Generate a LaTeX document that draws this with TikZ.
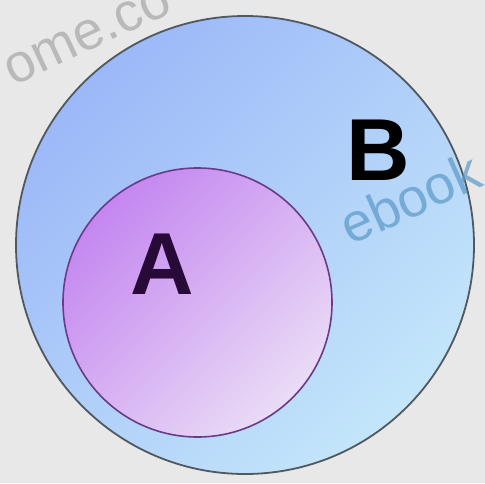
\documentclass[tikz,border=0pt]{standalone}
\usepackage{fontspec}
\setmainfont{Liberation Sans}
\usetikzlibrary{shadings}
\definecolor{bgc}{HTML}{E8E8E8}
\definecolor{bluea}{HTML}{9CB8F8}
\definecolor{blueb}{HTML}{C4E6FA}
\definecolor{pinka}{HTML}{C486F0}
\definecolor{pinkb}{HTML}{EADCF6}
\definecolor{ringb}{HTML}{505860}
\definecolor{ringa}{HTML}{6A3C86}
\definecolor{wmblue}{HTML}{5A98C8}
\tikzset{
  setlabel/.style={font=\fontsize{88}{88}\selectfont\bfseries, inner sep=0pt},
  wmark/.style={font=\fontsize{54}{54}\selectfont, inner sep=0pt, opacity=0.7},
}
\begin{document}
\begin{tikzpicture}[x=1pt,y=-1pt]
\fill[bgc] (0,0) rectangle (485,483);
\useasboundingbox (0,0) rectangle (485,483);
\node[wmark, text=gray!70, rotate=25] (wm1) at (88,36) {ome.co};
\shade[left color=bluea, right color=blueb, shading angle=45] (245,245) circle (229);
\draw[ringb, line width=1.8pt] (245,245) circle (229);
\node[coordinate] (Bc) at (245,245) {};
\shade[left color=pinka, right color=pinkb, shading angle=45] (197.5,302.5) circle (134.5);
\draw[ringa, line width=1.6pt] (197.5,302.5) circle (134.5);
\node[coordinate] (Ac) at (197.5,302.5) {};
\node[wmark, text=wmblue, rotate=24] (wm2) at (410,198) {ebook};
\node[setlabel, text=black] (B) at (378,150) {B};
\node[setlabel, text={rgb,255:red,40;green,10;blue,56}] (A) at (162,264) {A};
\end{tikzpicture}
\end{document}
